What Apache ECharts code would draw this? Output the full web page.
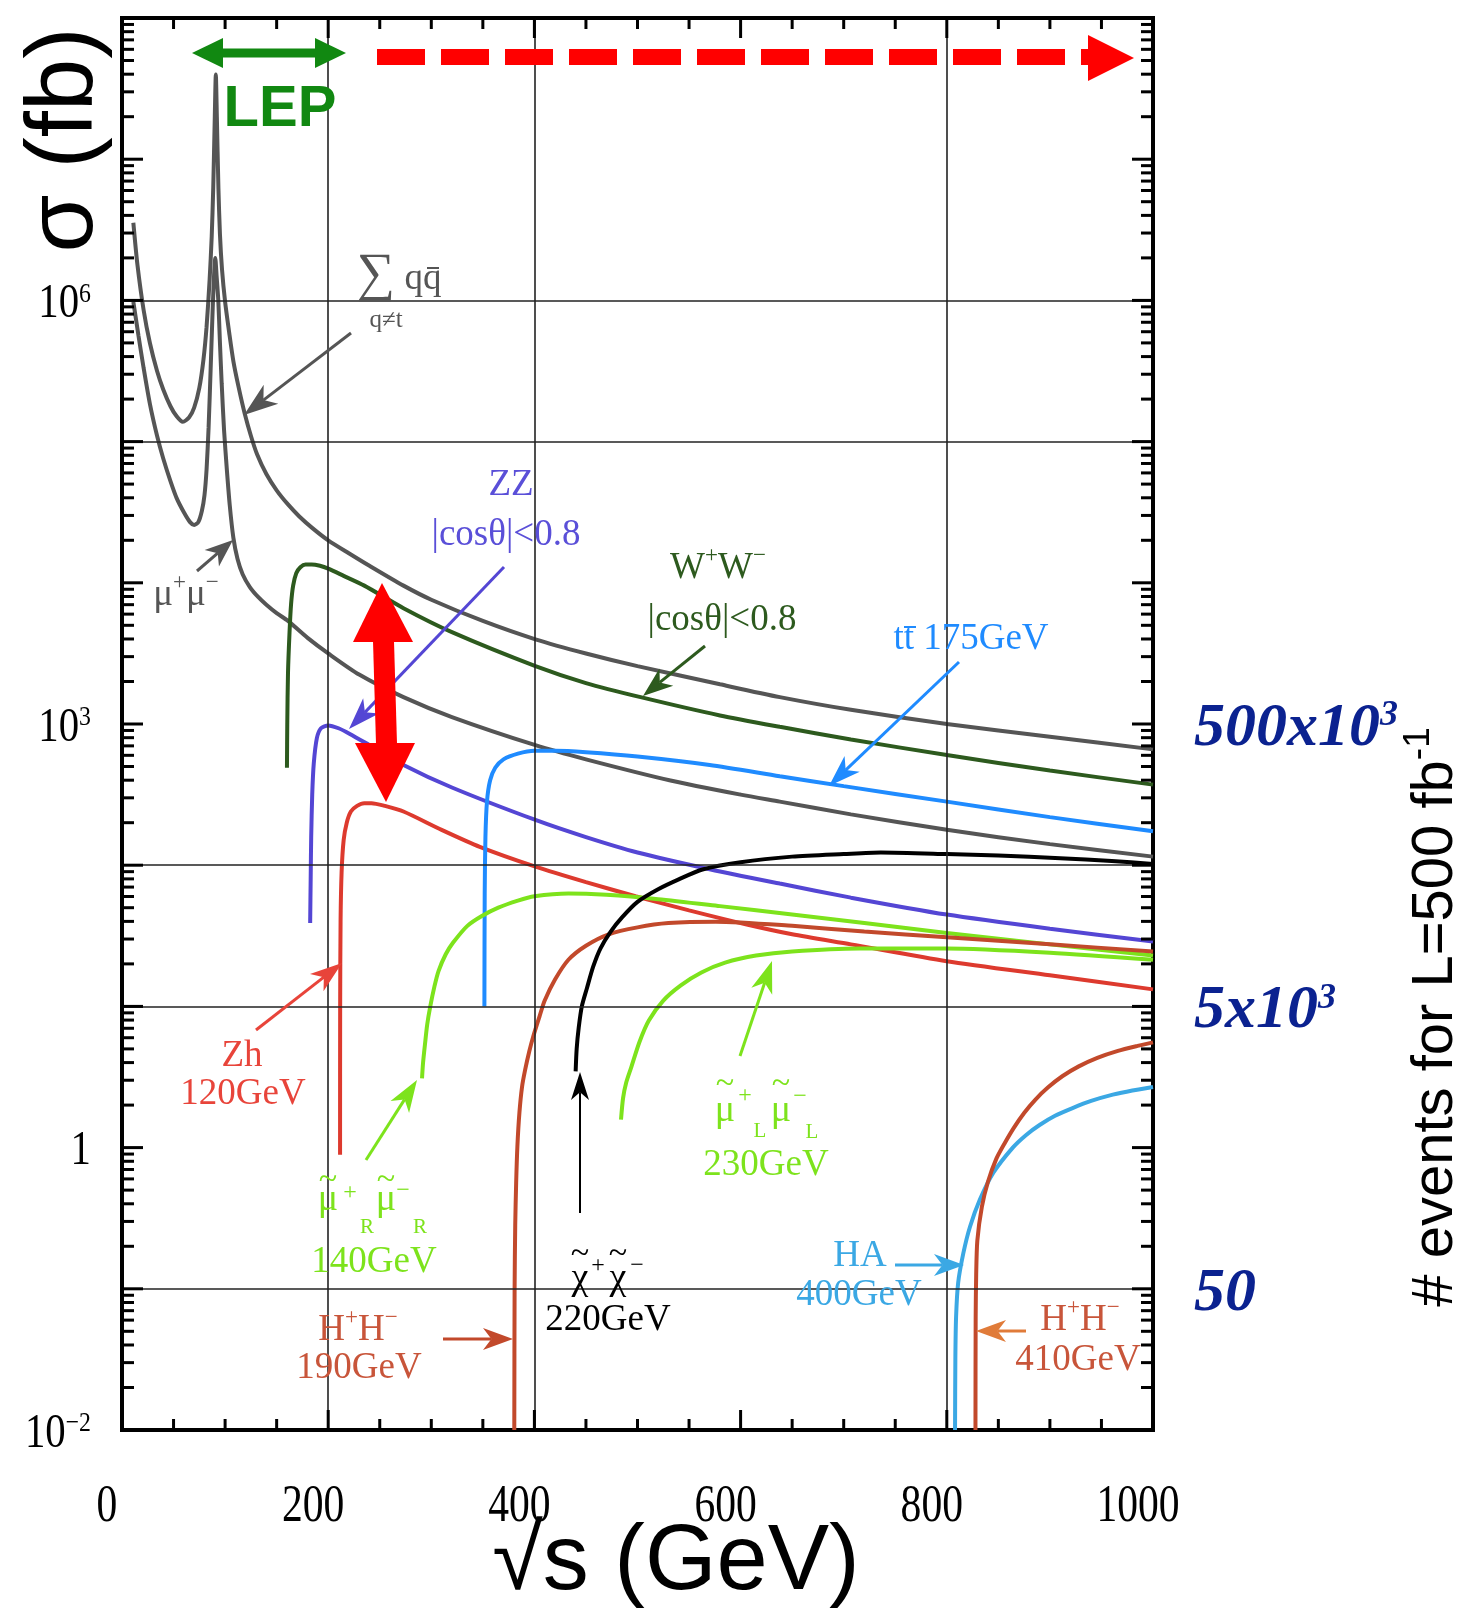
<!DOCTYPE html>
<html>
<head>
<meta charset="utf-8">
<script src="https://cdn.jsdelivr.net/npm/echarts@6.0.0/dist/echarts.min.js"></script>
<style>
html,body{margin:0;padding:0;background:#fff;}
#chart{width:1463px;height:1619px;}
</style>
</head>
<body>
<div id="chart"></div>
<script>
// ---------------- data (sqrt(s) in GeV, sigma in fb) ----------------
const qqX = [11,15,21,27,34,40,47,53,59,65,70,75,79,82,85,87,88.5,90,91,92,93.5,95,97,100,104,108,113,119,125,131,140,150,161,172,185,200,220,240,273,300,350,401,450,500,580,638,707,800,900,1000];
const qqSigma = [3.55e6,1.78e6,8.51e5,5.01e5,3.16e5,2.34e5,1.78e5,1.51e5,1.38e5,1.48e5,1.74e5,2.40e5,3.80e5,6.46e5,1.41e6,2.82e6,6.31e6,2.0e7,3.98e7,2.0e7,6.31e6,2.95e6,1.66e6,9.77e5,5.89e5,3.72e5,2.45e5,1.58e5,1.10e5,8.13e4,5.89e4,4.52e4,3.59e4,2.95e4,2.43e4,2.0e4,1.62e4,1.32e4,9550,7590,5370,3980,3160,2570,1910,1550,1260,1000,813,661];

const mumuX = [11,16,21,27,34,40,47,53,60,66,70,74,77.5,80,82,84,86,88,89.3,90.5,91.7,93.4,95,96.7,99,101.5,104.5,108,112,117,124,132,140,150,161,180,200,230,273,320,401,450,532,600,638,707,800,900,1000];
const mumuSigma = [9.77e5,5.62e5,3.31e5,1.86e5,1.10e5,7.59e4,5.25e4,3.98e4,3.16e4,2.69e4,2.57e4,2.69e4,3.24e4,4.17e4,6.31e4,1.26e5,3.31e5,8.91e5,1.51e6,2.0e6,1.51e6,1.0e6,5.01e5,2.57e5,1.20e5,6.61e4,3.55e4,2.09e4,1.48e4,1.15e4,9330,7940,7000,6100,5370,4070,3160,2240,1550,1120,708,562,398,316,282,229,178,141,115];

const wwX = [160,160.3,161,162.5,164,166,169,173,178,184,192,200,215,235,273,320,401,450,503,580,638,707,800,900,1000];
const wwSigma = [490,1000,2290,4470,7080,9550,1.17e4,1.29e4,1.35e4,1.35e4,1.32e4,1.26e4,1.12e4,9550,6610,4470,2570,1950,1550,1150,955,776,603,468,372];

const zzX = [182.5,183,183.5,184.5,186,189,193,200,210,221,240,273,320,401,450,500,571,638,707,800,900,1000];
const zzSigma = [38.9,79.4,158,316,525,794,933,977,933,851,708,513,355,209,158,123,93.3,74.1,58.9,44.7,35.5,28.8];

const zhX = [211.5,211.6,212,213,215,218,222,228,235,242,255,273,310,347,401,450,498,550,606,650,707,800,900,1000];
const zhSigma = [0.891,10,39.8,89.1,151,200,240,263,275,275,263,240,178,135,97.7,75.9,60.3,47.9,38.0,32.4,27.5,20.9,16.6,13.2];

const ttX = [351.5,351.8,352.5,354,357,362,370,384,400,420,450,500,570,638,700,800,900,1000];
const ttSigma = [10,63.1,158,282,398,490,562,617,646,646,631,589,513,427,363,282,219,174];

const smuRX = [291,292,294,296,299,303,307,314,321,335,349,365,384,400,433,470,520,580,650,720,800,900,1000];
const smuRSigma = [3.09,3.98,5.50,7.41,10,13.8,17.8,23.4,28.2,37.2,43.7,50.1,56.2,60.3,63.1,61.7,57.5,51.3,44.7,38.9,33.1,27.5,22.9];

const hh190X = [380.5,380.8,381.4,382.3,383.5,385.5,388,391,395,399,405,410,420,433,450,472,500,530,576,650,720,800,900,1000];
const hh190Sigma = [0.01,0.1,0.282,0.562,1.02,1.78,2.69,3.55,4.79,6.17,8.51,11.0,15.5,21.4,26.9,32.4,36.3,38.9,39.8,37.2,33.9,30.9,27.5,24.5];

const chiX = [440,441,443,446,451,457,464,474,485,500,520,540,563,600,650,700,736,800,850,910,960,1000];
const chiSigma = [3.47,5.01,7.08,10,13.5,19.1,25.7,33.9,42.7,55.0,67.6,79.4,93.3,105,115,120,123,120,117,112,107,102];

const smuLX = [484,486,489,494,502,511,525,542,562,585,615,650,715,800,900,1000];
const smuLSigma = [1.58,2.24,2.88,3.72,5.62,7.94,11.0,14.1,17.4,20.4,22.9,24.5,25.7,25.7,24.0,21.4];

const haX = [808,808.3,809,811,816,822.5,832,845,864,877,890,905,922,940,961,980,1000];
const haSigma = [0.01,0.0316,0.0631,0.110,0.178,0.275,0.427,0.661,1.0,1.23,1.445,1.68,1.905,2.14,2.37,2.54,2.69];

const hh410X = [827.8,828,828.5,829.6,834,840,848,856,865,875,886,898,912,928,946,966,985,1000];
const hh410Sigma = [0.01,0.0631,0.126,0.219,0.380,0.575,0.832,1.07,1.38,1.76,2.19,2.66,3.20,3.76,4.32,4.84,5.25,5.56];

// axis tick labels
const xTickValues = [0, 200, 400, 600, 800, 1000];
const xTickLabels = ['0', '200', '400', '600', '800', '1000'];
const yLabelValues = [1e6, 1e3, 1, 1e-2];
const yLabelBase = ['10', '10', '1', '10'];
const yLabelExp = ['6', '3', '', '\u22122'];
const eventValues = [1e3, 10, 0.1];
const eventBase = ['500x10', '5x10', '50'];
const eventExp = ['3', '3', ''];
const xGridValues = [200, 400, 800];
const yGridValues = [1e6, 1e5, 100, 10, 0.1];

// ---------------- styling ----------------
const SERIF = '"Liberation Serif", "Times New Roman", serif';
const SANS = '"Liberation Sans", Arial, sans-serif';
const C = {
  gray: '#555555', ww: '#2d5a1e', zz: '#5446d4', zh: '#dd3a2e', tt: '#1f8bff',
  smu: '#7de31c', hh: '#c2492b', chi: '#000000', ha: '#3ba8e4',
  zhText: '#e8443a', hhText: '#c8553a', hhArrow: '#e07b39', zzText: '#5a4fd8',
  lep: '#118811', red: '#ff0000', ev: '#0b2290'
};

function pairs(xs, ys) { return xs.map((x, i) => [x, ys[i]]); }
function curve(name, xs, ys, color) {
  return {
    type: 'line', name, data: pairs(xs, ys), showSymbol: false, symbol: 'none',
    smooth: 0.25, clip: true, silent: true, z: 3,
    lineStyle: { color, width: 4 }
  };
}

// ---------------- annotations (pixel layout) ----------------
const A = [];
function txt(x, y, t, color, size, extra) {
  A.push({ type: 'text', x, y, z: 50, silent: true,
    style: Object.assign({ text: t, fill: color, fontSize: size, fontFamily: SERIF,
      align: 'center', verticalAlign: 'middle' }, extra || {}) });
}
function richTxt(x, y, t, color, size) {
  const s = Math.round(size * 0.62);
  A.push({ type: 'text', x, y, z: 50, silent: true,
    style: { text: t, align: 'center', verticalAlign: 'middle',
      rich: {
        a: { fontSize: size, fontFamily: SERIF, fill: color, color: color, lineHeight: Math.round(size * 1.3) },
        p: { fontSize: s, fontFamily: SERIF, fill: color, color: color, verticalAlign: 'top', lineHeight: s }
      } } });
}
function seg(x1, y1, x2, y2, color, w, dash) {
  A.push({ type: 'line', z: 50, silent: true, shape: { x1, y1, x2, y2 },
    style: { stroke: color, lineWidth: w, lineDash: dash || null } });
}
function poly(points, color) {
  A.push({ type: 'polygon', z: 50, silent: true, shape: { points }, style: { fill: color } });
}
function arrow(x1, y1, x2, y2, color, lw, hl, hw) {
  const dx = x2 - x1, dy = y2 - y1, L = Math.hypot(dx, dy);
  const ux = dx / L, uy = dy / L, px = -uy, py = ux;
  const bx = x2 - ux * hl, by = y2 - uy * hl;
  const nx = x2 - ux * hl * 0.72, ny = y2 - uy * hl * 0.72;
  seg(x1, y1, nx, ny, color, lw);
  poly([[x2, y2], [bx + px * hw, by + py * hw], [nx, ny], [bx - px * hw, by - py * hw]], color);
}

// sum q qbar
txt(376, 276, '\u2211', C.gray, 54);
txt(423, 279, 'qq', C.gray, 37);
seg(427, 268, 439, 268, C.gray, 2);
txt(386, 320, 'q\u2260t', C.gray, 25);
arrow(351, 333, 244, 415, C.gray, 3, 34, 12);
// mu mu
richTxt(186, 595, '{a|\u03bc}{p|+}{a|\u03bc}{p|\u2212}', C.gray, 37);
arrow(197, 571, 233, 540, C.gray, 3, 28, 11);
// ZZ
txt(511, 485, 'ZZ', C.zzText, 37);
txt(506, 535, '|cos\u03b8|<0.8', C.zzText, 37);
arrow(504, 567, 349, 729, C.zz, 3, 32, 11);
// WW
richTxt(718, 568, '{a|W}{p|+}{a|W}{p|\u2212}', C.ww, 37);
txt(722, 620, '|cos\u03b8|<0.8', C.ww, 37);
arrow(705, 646, 643, 696, C.ww, 3, 30, 11);
// t tbar
txt(971, 639, 'tt 175GeV', C.tt, 37);
seg(904, 627, 916, 627, C.tt, 2);
arrow(959, 662, 829, 786, C.tt, 3, 32, 11);
// Zh
txt(242, 1056, 'Zh', C.zhText, 37);
txt(243, 1094, '120GeV', C.zhText, 37);
arrow(256, 1030, 342, 963, C.zhText, 3, 32, 11);
// smuon R
txt(328, 1200, '\u03bc', C.smu, 38); txt(328, 1180, '~', C.smu, 34);
txt(350, 1193, '+', C.smu, 24); txt(367, 1227, 'R', C.smu, 21);
txt(386, 1200, '\u03bc', C.smu, 38); txt(386, 1180, '~', C.smu, 34);
txt(403, 1191, '\u2212', C.smu, 24); txt(420, 1227, 'R', C.smu, 21);
txt(374, 1262, '140GeV', C.smu, 37);
arrow(366, 1160, 417, 1080, C.smu, 3, 32, 11);
// H+H- 190
richTxt(358, 1330, '{a|H}{p|+}{a|H}{p|\u2212}', C.hhText, 37);
txt(359, 1368, '190GeV', C.hhText, 37);
arrow(443, 1339, 513, 1339, C.hh, 3, 30, 11);
// chargino
txt(580, 1279, '\u03c7', '#000', 38); txt(580, 1254, '~', '#000', 34);
txt(598, 1266, '+', '#000', 24);
txt(618, 1279, '\u03c7', '#000', 38); txt(618, 1254, '~', '#000', 34);
txt(637, 1266, '\u2212', '#000', 24);
txt(608, 1320, '220GeV', '#000', 37);
arrow(580, 1213, 580, 1072, '#000', 2, 28, 9);
// smuon L
txt(725, 1111, '\u03bc', C.smu, 38); txt(725, 1084, '~', C.smu, 34);
txt(745, 1096, '+', C.smu, 24); txt(760, 1131, 'L', C.smu, 21);
txt(781, 1111, '\u03bc', C.smu, 38); txt(781, 1084, '~', C.smu, 34);
txt(800, 1097, '\u2212', C.smu, 24); txt(812, 1132, 'L', C.smu, 21);
txt(766, 1165, '230GeV', C.smu, 37);
arrow(740, 1056, 772, 961, C.smu, 3, 32, 11);
// HA
txt(860, 1256, 'HA', C.ha, 37);
txt(859, 1295, '400GeV', C.ha, 37);
arrow(895, 1265, 964, 1265, C.ha, 3, 30, 11);
// H+H- 410
richTxt(1080, 1320, '{a|H}{p|+}{a|H}{p|\u2212}', C.hhText, 37);
txt(1078, 1360, '410GeV', C.hhText, 37);
arrow(1026, 1331, 976, 1331, C.hhArrow, 3, 30, 11);
// LEP arrow
seg(220, 53, 318, 53, C.lep, 9);
poly([[192, 53], [223, 38], [223, 68]], C.lep);
poly([[346, 53], [315, 38], [315, 68]], C.lep);
txt(280, 110, 'LEP', C.lep, 58, { fontFamily: SANS, fontWeight: 'bold' });
// red dashed arrow
seg(377, 57, 1089, 57, C.red, 16, [48, 16]);
poly([[1134, 58], [1088, 35], [1088, 81]], C.red);
// big red double arrow
poly([[373, 641], [394, 641], [397, 744], [376, 744]], C.red);
poly([[382, 583], [353, 642], [413, 642]], C.red);
poly([[386, 802], [355, 743], [415, 743]], C.red);
// axis titles
A.push({ type: 'text', x: 66, y: 140, rotation: Math.PI / 2, z: 50, silent: true,
  style: { text: '\u03c3 (fb)', fill: '#000', fontSize: 94, fontFamily: SANS, align: 'center', verticalAlign: 'middle' } });
A.push({ type: 'text', x: 676, y: 1564, z: 50, silent: true,
  style: { text: '\u221as (GeV)', fill: '#000', fontSize: 92, fontFamily: SANS, align: 'center', verticalAlign: 'middle' } });
A.push({ type: 'text', x: 1436, y: 1017, rotation: Math.PI / 2, z: 50, silent: true,
  style: { text: '{a|# events for L=500 fb}{p|-1}', align: 'center', verticalAlign: 'middle',
    rich: { a: { fontSize: 58, fontFamily: SANS, fill: '#000', color: '#000', lineHeight: 72 },
            p: { fontSize: 37, fontFamily: SANS, fill: '#000', color: '#000', verticalAlign: 'top', lineHeight: 33 } } } });

// ---------------- axis decoration data (ticks) ----------------
const tickItems = [];
for (let e = -2; e <= 8; e++) {
  for (let m = 1; m <= 9; m++) {
    if (e === 8 && m > 1) break;
    tickItems.push([0, m * Math.pow(10, e), m === 1 ? 0 : 1]);
  }
}
for (let x = 0; x <= 1000; x += 50) tickItems.push([x, 1, x % 200 === 0 ? 2 : 3]);

const chart = echarts.init(document.getElementById('chart'));
const option = {
  animation: false,
  backgroundColor: '#fff',
  grid: { left: 122, top: 18, right: 310, bottom: 189, show: true, borderColor: '#000', borderWidth: 4, backgroundColor: 'transparent' },
  xAxis: { type: 'value', min: 0, max: 1000, axisLine: { show: false }, axisTick: { show: false },
    axisLabel: { show: false }, splitLine: { show: false } },
  yAxis: { type: 'log', logBase: 10, min: 0.01, max: 1e8, axisLine: { show: false }, axisTick: { show: false },
    axisLabel: { show: false }, splitLine: { show: false } },
  graphic: { elements: A },
  series: [
    { type: 'line', name: 'grid', data: [], z: 1, silent: true,
      markLine: { silent: true, symbol: ['none', 'none'], label: { show: false }, animation: false,
        lineStyle: { color: '#222', width: 1.6, type: 'solid' },
        data: xGridValues.map(v => ({ xAxis: v })).concat(yGridValues.map(v => ({ yAxis: v }))) } },
    curve('sum q qbar', qqX, qqSigma, C.gray),
    curve('mu+mu-', mumuX, mumuSigma, C.gray),
    curve('W+W-', wwX, wwSigma, C.ww),
    curve('ZZ', zzX, zzSigma, C.zz),
    curve('Zh 120GeV', zhX, zhSigma, C.zh),
    curve('ttbar 175GeV', ttX, ttSigma, C.tt),
    curve('smuR 140GeV', smuRX, smuRSigma, C.smu),
    curve('H+H- 190GeV', hh190X, hh190Sigma, C.hh),
    curve('chargino 220GeV', chiX, chiSigma, C.chi),
    curve('smuL 230GeV', smuLX, smuLSigma, C.smu),
    curve('HA 400GeV', haX, haSigma, C.ha),
    curve('H+H- 410GeV', hh410X, hh410Sigma, C.hh),
    { type: 'custom', name: 'ticks', data: tickItems, z: 6, silent: true,
      renderItem: function (params, api) {
        const cs = params.coordSys;
        const kind = api.value(2);
        const st = { stroke: '#000', lineWidth: 3 };
        if (kind < 2) {
          const y = api.coord([0, api.value(1)])[1];
          const len = kind === 0 ? 21 : 12;
          return { type: 'group', children: [
            { type: 'line', shape: { x1: cs.x, y1: y, x2: cs.x + len, y2: y }, style: st },
            { type: 'line', shape: { x1: cs.x + cs.width - len, y1: y, x2: cs.x + cs.width, y2: y }, style: st } ] };
        }
        const x = api.coord([api.value(0), 1])[0];
        const len = kind === 2 ? 20 : 11;
        return { type: 'group', children: [
          { type: 'line', shape: { x1: x, y1: cs.y + cs.height - len, x2: x, y2: cs.y + cs.height }, style: st },
          { type: 'line', shape: { x1: x, y1: cs.y, x2: x, y2: cs.y + len }, style: st } ] };
      } },
    { type: 'custom', name: 'ylabels', data: yLabelValues.map((v, i) => [0, v, i]), z: 6, silent: true,
      renderItem: function (params, api) {
        const i = api.value(2);
        const y = api.coord([0, api.value(1)])[1];
        const t = yLabelExp[i] ? '{b|' + yLabelBase[i] + '}{e|' + yLabelExp[i] + '}' : '{b|' + yLabelBase[i] + '}';
        return { type: 'text', x: 91, y: y + 4, scaleX: 0.85,
          style: { text: t, align: 'right', verticalAlign: 'middle',
            rich: { b: { fontSize: 48, fontFamily: SERIF, fill: '#000', color: '#000', lineHeight: 48 },
                    e: { fontSize: 28, fontFamily: SERIF, fill: '#000', color: '#000', verticalAlign: 'top', lineHeight: 24 } } } };
      } },
    { type: 'custom', name: 'xlabels', data: xTickValues.map((v, i) => [v, 1, i]), z: 6, silent: true,
      renderItem: function (params, api) {
        const cs = params.coordSys;
        const i = api.value(2);
        const x = api.coord([api.value(0), 1])[0];
        return { type: 'text', x: x - 15, y: cs.y + cs.height + 77, scaleX: 0.8,
          style: { text: xTickLabels[i], fill: '#000', fontSize: 52, fontFamily: SERIF, align: 'center', verticalAlign: 'middle' } };
      } },
    { type: 'custom', name: 'eventlabels', data: eventValues.map((v, i) => [1000, v, i]), z: 6, silent: true,
      renderItem: function (params, api) {
        const cs = params.coordSys;
        const i = api.value(2);
        const y = api.coord([0, api.value(1)])[1];
        const t = eventExp[i] ? '{b|' + eventBase[i] + '}{e|' + eventExp[i] + '}' : '{b|' + eventBase[i] + '}';
        return { type: 'text', x: cs.x + cs.width + 41, y: y + 5,
          style: { text: t, align: 'left', verticalAlign: 'middle',
            rich: { b: { fontSize: 62, fontFamily: SERIF, fontWeight: 'bold', fontStyle: 'italic', fill: C.ev, color: C.ev, lineHeight: 62 },
                    e: { fontSize: 36, fontFamily: SERIF, fontWeight: 'bold', fontStyle: 'italic', fill: C.ev, color: C.ev, verticalAlign: 'top', lineHeight: 30 } } } };
      } }
  ]
};
chart.setOption(option);
</script>
</body>
</html>
